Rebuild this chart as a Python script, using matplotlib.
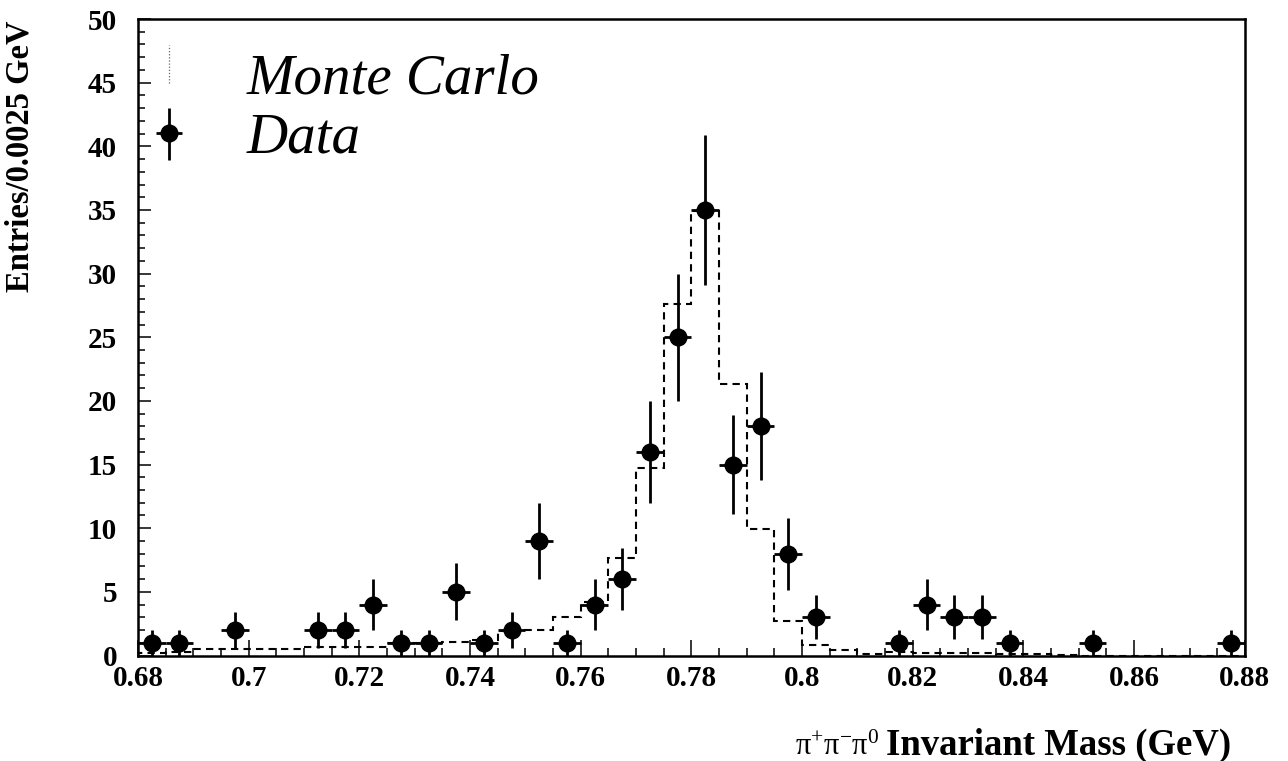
import numpy as np
import matplotlib; matplotlib.use('Agg'); import matplotlib.pyplot as plt
from matplotlib.ticker import MultipleLocator

plt.rcParams['font.family'] = ['Liberation Serif', 'DejaVu Serif']
plt.rcParams['mathtext.fontset'] = 'custom'
plt.rcParams['mathtext.rm'] = 'Liberation Serif'
plt.rcParams['mathtext.it'] = 'Liberation Serif:italic'

# data points: bin centres, counts, errors (bins of 0.005 GeV)
mass = [0.6825, 0.6875, 0.6975, 0.7125, 0.7175, 0.7225, 0.7275, 0.7325, 0.7375, 0.7425,
        0.7475, 0.7525, 0.7575, 0.7625, 0.7675, 0.7725, 0.7775, 0.7825, 0.7875, 0.7925,
        0.7975, 0.8025, 0.8175, 0.8225, 0.8275, 0.8325, 0.8375, 0.8525, 0.8775]
counts = [1, 1, 2, 2, 2, 4, 1, 1, 5, 1,
          2, 9, 1, 4, 6, 16, 25, 35, 15, 18,
          8, 3, 1, 4, 3, 3, 1, 1, 1]
errs = [1.0, 1.0, 1.41, 1.41, 1.41, 2.0, 1.0, 1.0, 2.24, 1.0,
        1.41, 3.0, 1.0, 2.0, 2.45, 4.0, 5.0, 5.92, 3.87, 4.24,
        2.83, 1.73, 1.0, 2.0, 1.73, 1.73, 1.0, 1.0, 1.0]
half_bin = 0.0025

# Monte Carlo histogram, normalised to data
mc_edges = [0.680, 0.685, 0.690, 0.695, 0.700, 0.705, 0.710, 0.715, 0.720, 0.725,
            0.730, 0.735, 0.740, 0.745, 0.750, 0.755, 0.760, 0.765, 0.770, 0.775,
            0.780, 0.785, 0.790, 0.795, 0.800, 0.805, 0.810, 0.815, 0.820, 0.825,
            0.830, 0.835, 0.840, 0.845, 0.850, 0.855, 0.860, 0.865, 0.870, 0.875, 0.880]
mc_vals = [0.2, 0.3, 0.5, 0.5, 0.5, 0.5, 0.7, 0.7, 0.7, 1.0,
           1.0, 1.1, 1.2, 1.95, 2.0, 3.0, 4.2, 7.7, 14.7, 27.6,
           34.9, 21.3, 9.9, 2.7, 0.8, 0.45, 0.15, 0.25, 0.2, 0.2,
           0.2, 0.1, 0.1, 0.05, 0.0, 0.0, 0.0, 0.0, 0.0, 0.0]

fig = plt.figure(figsize=(12.88, 7.61), dpi=100)
ax = fig.add_axes([0.1071, 0.1386, 0.8594, 0.8364])

ax.stairs(mc_vals, mc_edges, color='k', lw=1.5, ls=(0, (3.5, 2.5)), zorder=2)
ax.errorbar(mass, counts, yerr=errs, xerr=half_bin, fmt='o', color='k', ms=12,
            elinewidth=2.0, capsize=0, zorder=3)

ax.set_xlim(0.68, 0.88); ax.set_ylim(0, 50)
ax.xaxis.set_major_locator(MultipleLocator(0.02)); ax.xaxis.set_minor_locator(MultipleLocator(0.005))
ax.yaxis.set_major_locator(MultipleLocator(5)); ax.yaxis.set_minor_locator(MultipleLocator(1))
ax.set_xticklabels([f'{v:g}' for v in ax.get_xticks()])
ax.tick_params(which='both', direction='in', width=1.1)
ax.tick_params(axis='x', which='major', length=11.5, pad=7, labelsize=21)
ax.tick_params(axis='x', which='minor', length=5.8)
ax.tick_params(axis='y', which='major', length=9.4, pad=15, labelsize=21)
ax.tick_params(axis='y', which='minor', length=5)
for lab in ax.get_xticklabels() + ax.get_yticklabels():
    lab.set_fontweight('bold')
for s in ax.spines.values():
    s.set_linewidth(1.8)

ax.set_ylabel('Entries/0.0025 GeV', fontsize=23.5, fontweight='bold', loc='top')
ax.yaxis.set_label_coords(-0.093, 0.998)
ax.set_xlabel('Invariant Mass (GeV)', fontsize=26.5, fontweight='bold', loc='right')
ax.xaxis.set_label_coords(0.988, -0.156)
ax.xaxis.label.set_va('baseline')
# pion charges in front of the bold part, regular weight
ax.annotate(r'$\mathrm{\pi^{+}\pi^{-}\pi^{0}}$', xy=(0, 0), xycoords=ax.xaxis.label,
            xytext=(-5, 1), textcoords='offset points', ha='right', va='bottom', fontsize=22)

# legend, drawn by hand
tr = ax.transAxes
ax.plot([0.028, 0.028], [0.899, 0.959], transform=tr, color='0.4', lw=0.9, ls=(0, (1, 1.5)))
ax.errorbar([0.028], [0.821], yerr=[[0.042], [0.039]], xerr=0.0117, fmt='o', color='k', ms=12,
            elinewidth=2.0, capsize=0, transform=tr)
ax.text(0.0985, 0.8835, 'Monte Carlo', transform=tr, fontsize=41, style='italic', va='baseline')
ax.text(0.0985, 0.791, 'Data', transform=tr, fontsize=41, style='italic', va='baseline')

fig.savefig('out.png', dpi=100)
